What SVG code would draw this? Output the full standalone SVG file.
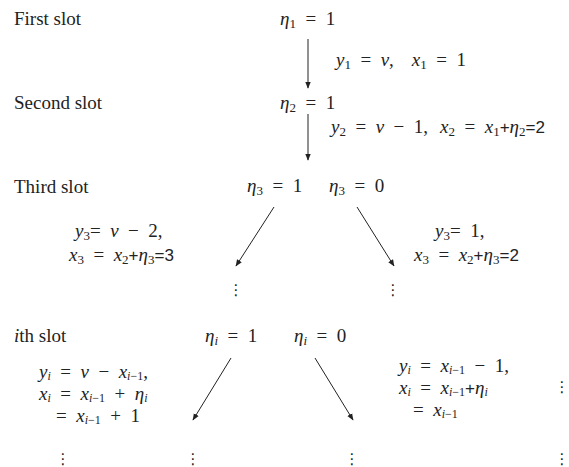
<svg xmlns="http://www.w3.org/2000/svg" width="569" height="467" viewBox="0 0 569 467">
<defs>
<style>
.lbl{font-family:"Liberation Serif",serif;font-size:19px;fill:#222}
.m{font-family:"Liberation Serif",serif;font-size:19px;fill:#222}
.i{font-style:italic}
.s{font-size:13px}
.t{font-size:12px}
.n{font-family:"Liberation Sans",sans-serif;font-size:17px}
.dots{font-family:"DejaVu Sans",sans-serif;font-size:15px;fill:#222;text-anchor:middle}
.arr{stroke:#222;stroke-width:1;fill:none;marker-end:url(#ah)}
</style>
<marker id="ah" viewBox="0 0 10 10" refX="9" refY="5" markerWidth="7" markerHeight="7" orient="auto" markerUnits="userSpaceOnUse">
<path d="M0,1 L10,5 L0,9 z" fill="#222"/>
</marker>
</defs>
<rect width="569" height="467" fill="#fff"/>

<g id="labels">
<text class="lbl" x="14" y="25">First slot</text>
<text class="lbl" x="14" y="109">Second slot</text>
<text class="lbl" x="14" y="193">Third slot</text>
<text class="lbl" x="14" y="342"><tspan class="i">i</tspan>th slot</text>
</g>

<g id="connectors">
<line class="arr" x1="308" y1="39" x2="308" y2="88"/>
<line class="arr" x1="308" y1="114" x2="308" y2="160"/>
<line class="arr" x1="274" y1="207" x2="236" y2="266"/>
<line class="arr" x1="357" y1="207" x2="394" y2="266"/>
<line class="arr" x1="231" y1="358" x2="193" y2="420"/>
<line class="arr" x1="315" y1="358" x2="353" y2="420"/>
</g>

<g id="slot1">
<text class="m" x="280" y="25"><tspan class="i">η</tspan><tspan class="s" dy="3">1</tspan><tspan dy="-3">&#8194;=&#8194;1</tspan></text>
<text class="m" x="336" y="66"><tspan class="i">y</tspan><tspan class="s" dy="3">1</tspan><tspan dy="-3">&#8194;=&#8194;</tspan><tspan class="i">v</tspan><tspan>,</tspan><tspan class="i" dx="18">x</tspan><tspan class="s" dy="3">1</tspan><tspan dy="-3">&#8194;=&#8194;1</tspan></text>
</g>

<g id="slot2">
<text class="m" x="280" y="109"><tspan class="i">η</tspan><tspan class="s" dy="3">2</tspan><tspan dy="-3">&#8194;=&#8194;1</tspan></text>
<text class="m" x="331" y="133"><tspan class="i">y</tspan><tspan class="s" dy="3">2</tspan><tspan dy="-3">&#8194;=&#8194;</tspan><tspan class="i">v</tspan><tspan>&#8194;−&#8194;1,</tspan><tspan class="i" dx="12">x</tspan><tspan class="s" dy="3">2</tspan><tspan dy="-3">&#8194;=&#8194;</tspan><tspan class="i">x</tspan><tspan class="s" dy="3">1</tspan><tspan class="n" dy="-3">+</tspan><tspan class="i">η</tspan><tspan class="s" dy="3">2</tspan><tspan class="n" dy="-3">=2</tspan></text>
</g>

<g id="slot3-left">
<text class="m" x="247" y="192"><tspan class="i">η</tspan><tspan class="s" dy="3">3</tspan><tspan dy="-3">&#8194;=&#8194;1</tspan></text>
<text class="m" x="75" y="237"><tspan class="i">y</tspan><tspan class="s" dy="3">3</tspan><tspan dy="-3">=&#8194;</tspan><tspan class="i">v</tspan><tspan>&#8194;−&#8194;2,</tspan></text>
<text class="m" x="69" y="261"><tspan class="i">x</tspan><tspan class="s" dy="3">3</tspan><tspan dy="-3">&#8194;=&#8194;</tspan><tspan class="i">x</tspan><tspan class="s" dy="3">2</tspan><tspan class="n" dy="-3">+</tspan><tspan class="i">η</tspan><tspan class="s" dy="3">3</tspan><tspan class="n" dy="-3">=3</tspan></text>
<text class="dots" x="236" y="295">⋮</text>
</g>

<g id="slot3-right">
<text class="m" x="329" y="192"><tspan class="i">η</tspan><tspan class="s" dy="3">3</tspan><tspan dy="-3">&#8194;=&#8194;0</tspan></text>
<text class="m" x="435" y="237"><tspan class="i">y</tspan><tspan class="s" dy="3">3</tspan><tspan dy="-3">=&#8194;1,</tspan></text>
<text class="m" x="414" y="261"><tspan class="i">x</tspan><tspan class="s" dy="3">3</tspan><tspan dy="-3">&#8194;=&#8194;</tspan><tspan class="i">x</tspan><tspan class="s" dy="3">2</tspan><tspan class="n" dy="-3">+</tspan><tspan class="i">η</tspan><tspan class="s" dy="3">3</tspan><tspan class="n" dy="-3">=2</tspan></text>
<text class="dots" x="393" y="295">⋮</text>
</g>

<g id="sloti-left">
<text class="m" x="205" y="342"><tspan class="i">η</tspan><tspan class="s i" dy="3">i</tspan><tspan dy="-3">&#8194;=&#8194;1</tspan></text>
<text class="m" x="39" y="378"><tspan class="i">y</tspan><tspan class="t i" dy="2">i</tspan><tspan dy="-2">&#8194;=&#8194;</tspan><tspan class="i">v</tspan><tspan>&#8194;−&#8194;</tspan><tspan class="i">x</tspan><tspan class="t" dy="2"><tspan class="i">i</tspan>−1</tspan><tspan dy="-2">,</tspan></text>
<text class="m" x="39" y="400"><tspan class="i">x</tspan><tspan class="t i" dy="2">i</tspan><tspan dy="-2">&#8194;=&#8194;</tspan><tspan class="i">x</tspan><tspan class="t" dy="2"><tspan class="i">i</tspan>−1</tspan><tspan dy="-2">&#8194;+&#8194;</tspan><tspan class="i">η</tspan><tspan class="t i" dy="2">i</tspan></text>
<text class="m" x="56" y="422"><tspan>=&#8194;</tspan><tspan class="i">x</tspan><tspan class="t" dy="2"><tspan class="i">i</tspan>−1</tspan><tspan dy="-2">&#8194;+&#8194;1</tspan></text>
<text class="dots" x="63" y="464">⋮</text>
<text class="dots" x="193" y="464">⋮</text>
</g>

<g id="sloti-right">
<text class="m" x="294" y="342"><tspan class="i">η</tspan><tspan class="s i" dy="3">i</tspan><tspan dy="-3">&#8194;=&#8194;0</tspan></text>
<text class="m" x="399" y="372"><tspan class="i">y</tspan><tspan class="t i" dy="2">i</tspan><tspan dy="-2">&#8194;=&#8194;</tspan><tspan class="i">x</tspan><tspan class="t" dy="2"><tspan class="i">i</tspan>−1</tspan><tspan dy="-2">&#8194;−&#8194;1,</tspan></text>
<text class="m" x="399" y="394"><tspan class="i">x</tspan><tspan class="t i" dy="2">i</tspan><tspan dy="-2">&#8194;=&#8194;</tspan><tspan class="i">x</tspan><tspan class="t" dy="2"><tspan class="i">i</tspan>−1</tspan><tspan class="n" dy="-2">+</tspan><tspan class="i">η</tspan><tspan class="t i" dy="2">i</tspan></text>
<text class="m" x="413" y="416"><tspan>=&#8194;</tspan><tspan class="i">x</tspan><tspan class="t" dy="2"><tspan class="i">i</tspan>−1</tspan></text>
<text class="dots" x="562" y="392">⋮</text>
<text class="dots" x="352" y="464">⋮</text>
<text class="dots" x="562" y="464">⋮</text>
</g>
</svg>
